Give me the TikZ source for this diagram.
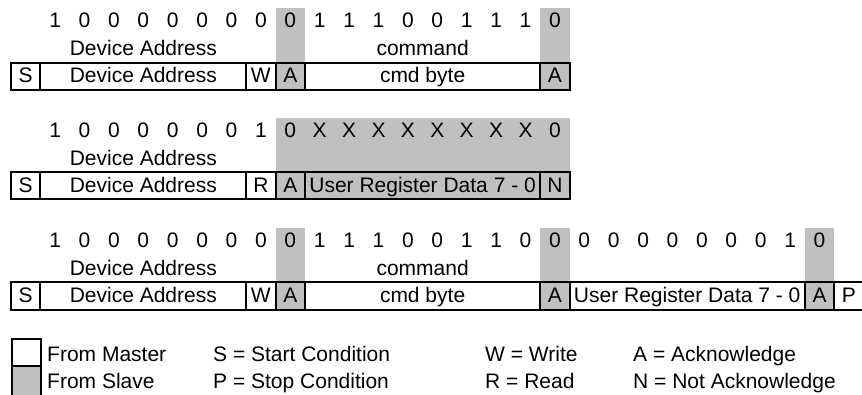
\documentclass[tikz,border=0pt]{standalone}
\usepackage{fontspec}
\setmainfont{Liberation Sans}
\definecolor{slave}{RGB}{192,192,192}
\begin{document}
\begin{tikzpicture}[x=1pt,y=-1pt,
  txt/.style={inner sep=0pt, anchor=base, font=\fontsize{21}{25}\selectfont},
  ltxt/.style={txt, anchor=base west},
  bx/.style={draw, line width=2pt},
  sl/.style={fill=slave}]
\useasboundingbox (0,0) rectangle (862,394);
\begin{scope}[x=29.4pt, xshift=11pt]
% ---------- Row 1 ----------
\fill[sl] (9,8) rectangle (10,90);
\fill[sl] (18,8) rectangle (19,90);
\draw[bx] (0,63) rectangle (19,90);
\foreach \c in {1,8,9,10,18} \draw[bx] (\c,63) -- (\c,90);
\foreach \d [count=\i] in {1,0,0,0,0,0,0,0,0,1,1,1,0,0,1,1,1,0}
  \node[txt] (ra\i) at (\i+0.5,27) {\d};
\node[txt] (ladra) at (4.5,55) {Device Address};
\node[txt] (lcmda) at (14,55) {command};
\node[txt] (sa) at (0.5,82) {S};
\node[txt] (da) at (4.5,82) {Device Address};
\node[txt] (wa) at (8.5,82) {W};
\node[txt] (aa1) at (9.5,82) {A};
\node[txt] (ca) at (14,82) {cmd byte};
\node[txt] (aa2) at (18.5,82) {A};
% ---------- Row 2 ----------
\fill[sl] (9,118) rectangle (19,199);
\draw[bx] (0,172) rectangle (19,199);
\foreach \c in {1,8,9,10,18} \draw[bx] (\c,172) -- (\c,199);
\foreach \d [count=\i] in {1,0,0,0,0,0,0,1,0,X,X,X,X,X,X,X,X,0}
  \node[txt] (rb\i) at (\i+0.5,137) {\d};
\node[txt] (ladrb) at (4.5,165) {Device Address};
\node[txt] (sb) at (0.5,192) {S};
\node[txt] (db) at (4.5,192) {Device Address};
\node[txt] (rdb) at (8.5,192) {R};
\node[txt] (ab) at (9.5,192) {A};
\node[txt] (ub) at (14,192) {User Register Data 7 - 0};
\node[txt] (nb) at (18.5,192) {N};
% ---------- Row 3 ----------
\fill[sl] (9,228) rectangle (10,310);
\fill[sl] (18,228) rectangle (19,310);
\fill[sl] (27,228) rectangle (28,310);
\draw[bx] (0,282) rectangle (29.2,310);
\foreach \c in {1,8,9,10,18,19,27,28} \draw[bx] (\c,282) -- (\c,310);
\foreach \d [count=\i] in {1,0,0,0,0,0,0,0,0,1,1,1,0,0,1,1,0,0,0,0,0,0,0,0,0,1,0}
  \node[txt] (rc\i) at (\i+0.5,247) {\d};
\node[txt] (ladrc) at (4.5,275) {Device Address};
\node[txt] (lcmdc) at (14,275) {command};
\node[txt] (sc) at (0.5,302) {S};
\node[txt] (dc) at (4.5,302) {Device Address};
\node[txt] (wc) at (8.5,302) {W};
\node[txt] (ac1) at (9.5,302) {A};
\node[txt] (cc) at (14,302) {cmd byte};
\node[txt] (ac2) at (18.5,302) {A};
\node[txt] (uc) at (23,302) {User Register Data 7 - 0};
\node[txt] (ac3) at (27.5,302) {A};
\node[txt] (pc) at (28.5,302) {P};
\end{scope}
% ---------- Legend ----------
\draw[bx] (12,339) rectangle (41,366);
\filldraw[bx, sl] (12,366) rectangle (41,398);
\node[ltxt] (lm) at (47,361) {From Master};
\node[ltxt] (ls) at (47,388) {From Slave};
\node[ltxt] (lst) at (213,361) {S = Start Condition};
\node[ltxt] (lsp) at (213,388) {P = Stop Condition};
\node[ltxt] (lw) at (485,361) {W = Write};
\node[ltxt] (lr) at (485,388) {R = Read};
\node[ltxt] (la) at (633,361) {A = Acknowledge};
\node[ltxt] (ln) at (633,388) {N = Not Acknowledge};
\end{tikzpicture}
\end{document}
